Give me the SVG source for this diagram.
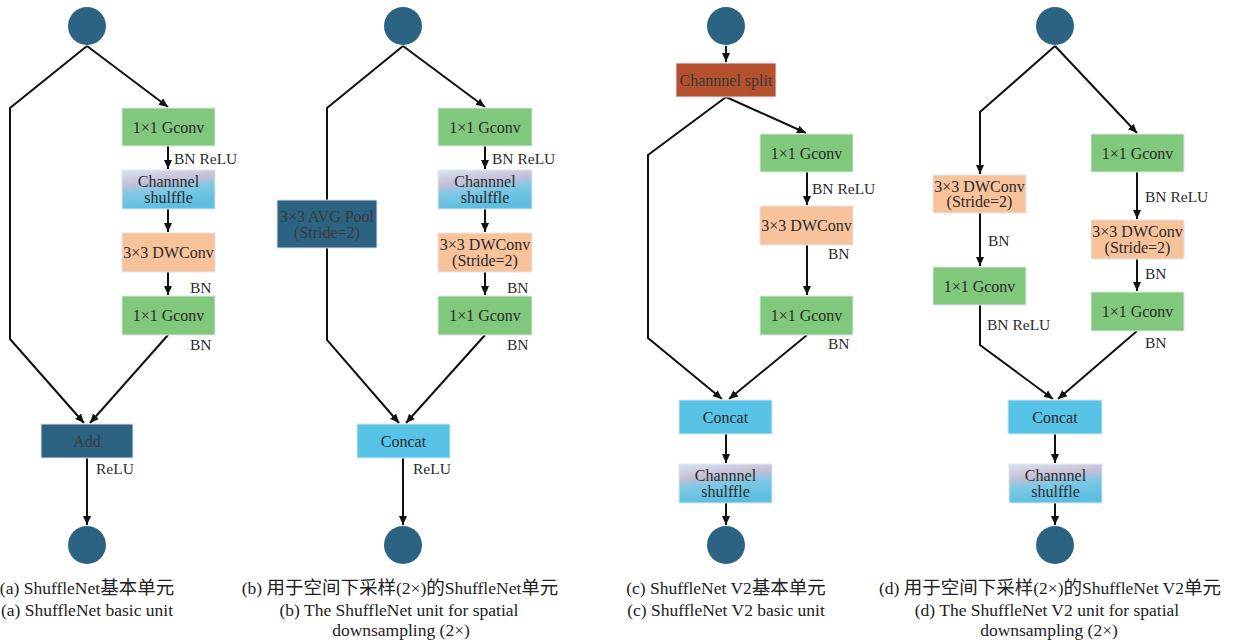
<svg xmlns="http://www.w3.org/2000/svg" width="1239" height="644" viewBox="0 0 1239 644">
  <defs>
    <style>
      .node rect { stroke: #dfe6ea; stroke-width: 1; }
      .green { fill: #80c87c; }
      .peach { fill: #f8c29b; }
      .cyan { fill: #57c3e6; }
      .teal { fill: #2c6383; }
      .rust { fill: #b5512e; }
      .shuf { fill: url(#shufGrad); }
      .io { fill: #2c6383; }
      text { font-family: "Liberation Serif", "Noto Sans CJK SC", serif; fill: #2b2b2b; }
      .bt { font-size: 16px; text-anchor: middle; }
      .dark { fill: #3a3a3a; }
      .lbl { font-size: 15.5px; }
      .cap { font-size: 17.5px; text-anchor: middle; fill: #222; }
      .cjk { font-family: "Noto Sans CJK SC", sans-serif; font-size: 18.5px; }
      .conn path, .conn line, .conn polyline { stroke: #111; stroke-width: 2; fill: none; }
      .arr { marker-end: url(#ah); }
    </style>
    <linearGradient id="shufGrad" x1="0" y1="0" x2="0.25" y2="1">
      <stop offset="0" stop-color="#d6e6f2"/>
      <stop offset="0.35" stop-color="#c8bfd6"/>
      <stop offset="0.6" stop-color="#7fc8e4"/>
      <stop offset="1" stop-color="#5cbfe2"/>
    </linearGradient>
    <marker id="ah" markerWidth="10" markerHeight="10" refX="9" refY="5" orient="auto" markerUnits="userSpaceOnUse">
      <path d="M0,1 L9,5 L0,9 z" fill="#111"/>
    </marker>
  </defs>

  <rect width="1239" height="644" fill="#ffffff"/>

  <!-- connectors -->
  <g class="conn" id="connectors">
    <!-- (a) -->
    <polyline class="arr" points="87,46 10,108 10,339 84,423"/>
    <line class="arr" x1="87" y1="46" x2="168" y2="107"/>
    <line class="arr" x1="168" y1="146" x2="168" y2="169"/>
    <line class="arr" x1="168" y1="209" x2="168" y2="232"/>
    <line class="arr" x1="168" y1="272" x2="168" y2="295"/>
    <line class="arr" x1="168" y1="335" x2="90" y2="423"/>
    <line class="arr" x1="87" y1="458" x2="87" y2="525"/>
    <!-- (b) -->
    <polyline points="403,46 327,108 327,200"/>
    <polyline class="arr" points="327,248 327,340 399,423"/>
    <line class="arr" x1="403" y1="46" x2="485" y2="107"/>
    <line class="arr" x1="485" y1="146" x2="485" y2="169"/>
    <line class="arr" x1="485" y1="209" x2="485" y2="232"/>
    <line class="arr" x1="485" y1="272" x2="485" y2="295"/>
    <line class="arr" x1="485" y1="335" x2="406" y2="423"/>
    <line class="arr" x1="403" y1="458" x2="403" y2="525"/>
    <!-- (c) -->
    <line class="arr" x1="726" y1="46" x2="726" y2="62"/>
    <polyline class="arr" points="726,97 648,155 648,338 722,399"/>
    <line class="arr" x1="726" y1="97" x2="806" y2="133"/>
    <line class="arr" x1="807" y1="172" x2="807" y2="205"/>
    <line class="arr" x1="807" y1="245" x2="807" y2="295"/>
    <line class="arr" x1="807" y1="335" x2="729" y2="399"/>
    <line class="arr" x1="726" y1="434" x2="726" y2="463"/>
    <line class="arr" x1="726" y1="503" x2="726" y2="525"/>
    <!-- (d) -->
    <polyline class="arr" points="1055,46 980,112 980,174"/>
    <line class="arr" x1="980" y1="213" x2="980" y2="266"/>
    <polyline class="arr" points="980,305 980,345 1053,399"/>
    <line class="arr" x1="1055" y1="46" x2="1137" y2="133"/>
    <line class="arr" x1="1137" y1="172" x2="1137" y2="219"/>
    <line class="arr" x1="1137" y1="259" x2="1137" y2="291"/>
    <line class="arr" x1="1137" y1="331" x2="1058" y2="399"/>
    <line class="arr" x1="1055" y1="434" x2="1055" y2="463"/>
    <line class="arr" x1="1055" y1="503" x2="1055" y2="525"/>
  </g>

  <!-- edge labels -->
  <g id="edge-labels" class="lbl">
    <text class="lbl" x="174" y="164">BN ReLU</text>
    <text class="lbl" x="190" y="293">BN</text>
    <text class="lbl" x="190" y="350">BN</text>
    <text class="lbl" x="96" y="474">ReLU</text>

    <text class="lbl" x="492" y="164">BN ReLU</text>
    <text class="lbl" x="507" y="293">BN</text>
    <text class="lbl" x="507" y="350">BN</text>
    <text class="lbl" x="413" y="474">ReLU</text>

    <text class="lbl" x="812" y="194">BN ReLU</text>
    <text class="lbl" x="828" y="259">BN</text>
    <text class="lbl" x="828" y="349">BN</text>

    <text class="lbl" x="988" y="246">BN</text>
    <text class="lbl" x="987" y="330">BN ReLU</text>
    <text class="lbl" x="1145" y="202">BN ReLU</text>
    <text class="lbl" x="1145" y="279">BN</text>
    <text class="lbl" x="1145" y="348">BN</text>
  </g>

  <!-- (a) ShuffleNet basic unit -->
  <g id="a-in" class="node"><circle class="io" cx="87" cy="26" r="19"/></g>
  <g id="a-gconv1" class="node"><rect class="green" x="122" y="108" width="93" height="38"/><text class="bt" x="168.5" y="132.5">1×1 Gconv</text></g>
  <g id="a-shuffle" class="node"><rect class="shuf" x="122" y="170" width="93" height="39"/><text class="bt" x="168.5" y="187">Channnel</text><text class="bt" x="168.5" y="203">shulffle</text></g>
  <g id="a-dwconv" class="node"><rect class="peach" x="122" y="233" width="93" height="39"/><text class="bt" x="168.5" y="258">3×3 DWConv</text></g>
  <g id="a-gconv2" class="node"><rect class="green" x="122" y="296" width="93" height="39"/><text class="bt" x="168.5" y="321">1×1 Gconv</text></g>
  <g id="a-add" class="node"><rect class="teal" x="41" y="424" width="92" height="34"/><text class="bt dark" x="87" y="446.5">Add</text></g>
  <g id="a-out" class="node"><circle class="io" cx="87" cy="545" r="19"/></g>

  <!-- (b) ShuffleNet unit, stride 2 -->
  <g id="b-in" class="node"><circle class="io" cx="403" cy="26" r="19"/></g>
  <g id="b-pool" class="node"><rect class="teal" x="277" y="200" width="100" height="48"/><text class="bt dark" x="327" y="222">3×3 AVG Pool</text><text class="bt dark" x="327" y="238">(Stride=2)</text></g>
  <g id="b-gconv1" class="node"><rect class="green" x="438" y="108" width="94" height="38"/><text class="bt" x="485" y="132.5">1×1 Gconv</text></g>
  <g id="b-shuffle" class="node"><rect class="shuf" x="438" y="170" width="94" height="39"/><text class="bt" x="485" y="187">Channnel</text><text class="bt" x="485" y="203">shulffle</text></g>
  <g id="b-dwconv" class="node"><rect class="peach" x="438" y="233" width="94" height="39"/><text class="bt" x="485" y="250">3×3 DWConv</text><text class="bt" x="485" y="266">(Stride=2)</text></g>
  <g id="b-gconv2" class="node"><rect class="green" x="438" y="296" width="94" height="39"/><text class="bt" x="485" y="321">1×1 Gconv</text></g>
  <g id="b-concat" class="node"><rect class="cyan" x="357" y="424" width="93" height="34"/><text class="bt" x="403.5" y="446.5">Concat</text></g>
  <g id="b-out" class="node"><circle class="io" cx="403" cy="545" r="19"/></g>

  <!-- (c) ShuffleNet V2 basic unit -->
  <g id="c-in" class="node"><circle class="io" cx="726" cy="26" r="19"/></g>
  <g id="c-split" class="node"><rect class="rust" x="676" y="63" width="100" height="34"/><text class="bt dark" x="726" y="85.5">Channnel split</text></g>
  <g id="c-gconv1" class="node"><rect class="green" x="760" y="134" width="93" height="38"/><text class="bt" x="806.5" y="158.5">1×1 Gconv</text></g>
  <g id="c-dwconv" class="node"><rect class="peach" x="760" y="206" width="93" height="39"/><text class="bt" x="806.5" y="231">3×3 DWConv</text></g>
  <g id="c-gconv2" class="node"><rect class="green" x="760" y="296" width="93" height="39"/><text class="bt" x="806.5" y="321">1×1 Gconv</text></g>
  <g id="c-concat" class="node"><rect class="cyan" x="679" y="400" width="93" height="34"/><text class="bt" x="725.5" y="422.5">Concat</text></g>
  <g id="c-shuffle" class="node"><rect class="shuf" x="679" y="464" width="93" height="39"/><text class="bt" x="725.5" y="481">Channnel</text><text class="bt" x="725.5" y="497">shulffle</text></g>
  <g id="c-out" class="node"><circle class="io" cx="726" cy="545" r="19"/></g>

  <!-- (d) ShuffleNet V2 unit, stride 2 -->
  <g id="d-in" class="node"><circle class="io" cx="1055" cy="26" r="19"/></g>
  <g id="d-dwconv-l" class="node"><rect class="peach" x="933" y="175" width="93" height="38"/><text class="bt" x="979.5" y="191.5">3×3 DWConv</text><text class="bt" x="979.5" y="207">(Stride=2)</text></g>
  <g id="d-gconv-l" class="node"><rect class="green" x="933" y="267" width="93" height="38"/><text class="bt" x="979.5" y="291.5">1×1 Gconv</text></g>
  <g id="d-gconv1-r" class="node"><rect class="green" x="1091" y="134" width="93" height="38"/><text class="bt" x="1137.5" y="158.5">1×1 Gconv</text></g>
  <g id="d-dwconv-r" class="node"><rect class="peach" x="1091" y="220" width="93" height="39"/><text class="bt" x="1137.5" y="237">3×3 DWConv</text><text class="bt" x="1137.5" y="253">(Stride=2)</text></g>
  <g id="d-gconv2-r" class="node"><rect class="green" x="1091" y="292" width="93" height="39"/><text class="bt" x="1137.5" y="317">1×1 Gconv</text></g>
  <g id="d-concat" class="node"><rect class="cyan" x="1008" y="400" width="94" height="34"/><text class="bt" x="1055" y="422.5">Concat</text></g>
  <g id="d-shuffle" class="node"><rect class="shuf" x="1009" y="464" width="93" height="39"/><text class="bt" x="1055.5" y="481">Channnel</text><text class="bt" x="1055.5" y="497">shulffle</text></g>
  <g id="d-out" class="node"><circle class="io" cx="1055" cy="545" r="19"/></g>

  <!-- captions -->
  <g id="captions">
    <text class="cap" x="87" y="594">(a) ShuffleNet<tspan class="cjk">基本单元</tspan></text>
    <text class="cap" x="87" y="616">(a) ShuffleNet basic unit</text>

    <text class="cap" x="400" y="594">(b) <tspan class="cjk">用于空间下采样</tspan>(2×)<tspan class="cjk">的</tspan>ShuffleNet<tspan class="cjk">单元</tspan></text>
    <text class="cap" x="399" y="616">(b) The ShuffleNet unit for spatial</text>
    <text class="cap" x="401" y="636">downsampling (2×)</text>

    <text class="cap" x="726" y="594">(c) ShuffleNet V2<tspan class="cjk">基本单元</tspan></text>
    <text class="cap" x="726" y="616">(c) ShuffleNet V2 basic unit</text>

    <text class="cap" x="1050" y="594">(d) <tspan class="cjk">用于空间下采样</tspan>(2×)<tspan class="cjk">的</tspan>ShuffleNet V2<tspan class="cjk">单元</tspan></text>
    <text class="cap" x="1047" y="616">(d) The ShuffleNet V2 unit for spatial</text>
    <text class="cap" x="1049" y="636">downsampling (2×)</text>
  </g>
</svg>
